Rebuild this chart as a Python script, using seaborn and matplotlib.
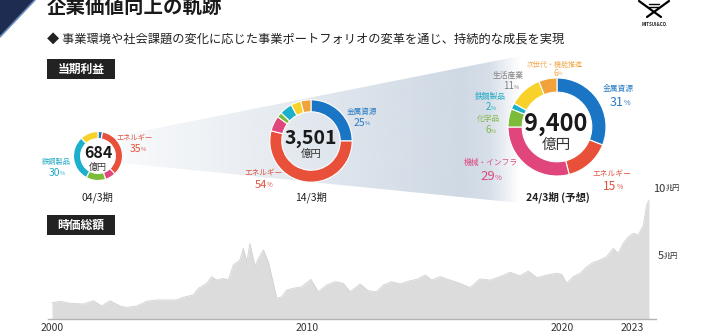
import numpy as np
import pandas as pd
import matplotlib
matplotlib.use("Agg")
import matplotlib.pyplot as plt
from matplotlib.patches import Polygon, Rectangle
import seaborn as sns

# ---------------- data ----------------
years = [2000.00, 2000.31, 2000.71, 2001.23, 2001.62, 2001.95, 2002.27, 2002.67, 2002.93, 2003.32,
         2003.71, 2004.11, 2004.50, 2004.89, 2005.15, 2005.54, 2005.74, 2006.07, 2006.26, 2006.46,
         2006.72, 2006.91, 2007.11, 2007.37, 2007.50, 2007.64, 2007.76, 2007.96, 2008.09, 2008.29,
         2008.48, 2008.62, 2008.81, 2009.01, 2009.20, 2009.46, 2009.79, 2010.15, 2010.44, 2010.77,
         2011.10, 2011.42, 2011.69, 2012.08, 2012.40, 2012.73, 2012.99, 2013.32, 2013.65, 2014.04,
         2014.30, 2014.63, 2014.89, 2015.22, 2015.61, 2016.00, 2016.39, 2016.78, 2017.18, 2017.57,
         2017.96, 2018.35, 2018.68, 2019.01, 2019.40, 2019.79, 2019.99, 2020.18, 2020.44, 2020.71,
         2020.97, 2021.23, 2021.49, 2021.75, 2022.01, 2022.20, 2022.40, 2022.60, 2022.80, 2022.99,
         2023.19, 2023.32, 2023.41]
market_cap = [1.23, 1.34, 1.19, 1.13, 1.39, 0.98, 1.39, 0.98, 0.87, 0.98,
              1.34, 1.45, 1.45, 1.45, 1.66, 1.84, 2.36, 2.75, 3.27, 3.00,
              3.14, 3.00, 4.18, 4.57, 5.48, 4.44, 5.87, 4.05, 4.70, 5.35,
              4.44, 3.27, 1.58, 1.70, 2.23, 2.36, 2.48, 3.06, 2.09, 2.62,
              2.88, 2.75, 2.09, 2.70, 2.17, 2.09, 2.62, 2.88, 2.70, 2.95,
              3.06, 3.40, 3.00, 3.27, 3.00, 2.75, 2.41, 3.09, 3.00, 3.27,
              3.61, 3.34, 3.71, 3.19, 3.40, 3.53, 3.45, 2.75, 3.27, 3.53,
              4.05, 4.39, 4.57, 4.83, 5.48, 5.09, 5.87, 6.39, 6.66, 6.52,
              7.30, 8.87, 9.26]
x_ticks = [2000, 2010, 2020, 2022.75]
x_tick_labels = ["2000", "2010", "2020", "2023"]
y_labels = [("10", "兆円"), ("5", "兆円")]

segments = ["金属資源", "エネルギー", "機械・インフラ", "化学品", "鉄鋼製品", "生活産業", "次世代・機能推進"]
seg_colors = ["#1a75c4", "#e8503a", "#e0457b", "#7dbb3a", "#1cb0cc", "#f8d22a", "#f2a23a"]
label_colors = ["#2b7cc2", "#e0503c", "#dc4a7e", "#86b84a", "#22aac4", "#808080", "#f0a848"]

profit_labels = ["684", "3,501", "9,400"]
period_labels = ["04/3期", "14/3期", "24/3期 (予想)"]
share_04 = [3, 35, 7, 13, 30, 12, 0]
share_14 = [25, 54, 6, 2, 5, 4, 4]
share_24 = [31, 15, 29, 6, 2, 11, 6]

title = "企業価値向上の軌跡"
subtitle = "◆ 事業環境や社会課題の変化に応じた事業ポートフォリオの変革を通じ、持続的な成長を実現"
box_labels = ["当期利益", "時価総額"]

# ---------------- setup ----------------
sns.set_theme(style="white")
plt.rcParams['font.family'] = ['Noto Sans CJK JP', 'DejaVu Sans']

W, H = 702, 336
fig = plt.figure(figsize=(W / 100, H / 100), dpi=100)
fig.patch.set_facecolor("white")

# background axes in pixel coordinates
bg = fig.add_axes([0, 0, 1, 1])
bg.set_xlim(0, W); bg.set_ylim(H, 0); bg.axis("off"); bg.set_zorder(0)

# funnel band
band = Polygon([(122, 135), (560, 48), (560, 207), (122, 163)], closed=True,
               facecolor="none", edgecolor="none")
bg.add_patch(band)
xs = np.linspace(122, 560, 400)
alpha = np.interp(xs, [122, 250, 460, 490, 520], [0.15, 0.45, 1.0, 0.85, 0.0])
base = np.array(matplotlib.colors.to_rgb("#cfd9e4"))
img = np.ones((2, len(xs), 4))
img[..., :3] = base
img[..., 3] = alpha
im = bg.imshow(img, extent=(122, 560, 210, 45), aspect="auto", interpolation="bilinear", zorder=1)
im.set_clip_path(band)

# corner triangle
bg.add_patch(Polygon([(0, 0), (35, 0), (0, 37)], closed=True, facecolor="#1d2c50", edgecolor="none"))
bg.plot([35, 0], [0, 37], color="#6e8fc0", lw=1.2)

# label boxes
for (bx, by), txt in zip([(47, 59), (47, 215)], box_labels):
    bg.add_patch(Rectangle((bx, by), 68, 20, facecolor="#222222", edgecolor="none"))

# logo
bg.plot([639, 661], [1, 17], color="black", lw=1.6, solid_capstyle="round")
bg.plot([669, 647], [1, 17], color="black", lw=1.6, solid_capstyle="round")
bg.plot([649, 659], [3.5, 3.5], color="black", lw=1.0)
bg.plot([649, 659], [6.5, 6.5], color="black", lw=1.0)

# ---------------- area chart ----------------
px_per_year = 25.5
ax_l, ax_r = 48, 656
x0 = 2000 - (52 - ax_l) / px_per_year
x1 = 2000 + (ax_r - 52) / px_per_year
base_y, top_y = 318.5, 180
ax = fig.add_axes([ax_l / W, 1 - base_y / H, (ax_r - ax_l) / W, (base_y - top_y) / H])
ax.set_zorder(1)
ax.patch.set_alpha(0)
df = pd.DataFrame({"year": years, "cap": market_cap})
ax.fill_between(df["year"], 0, df["cap"], color="#dcdcdc", lw=0)
sns.lineplot(data=df, x="year", y="cap", ax=ax, color="#d2d2d2", lw=0.6)
ax.set_xlim(x0, x1)
ax.set_ylim(0, (base_y - top_y) / 12.8)
for s in ["top", "right", "left"]:
    ax.spines[s].set_visible(False)
ax.spines["bottom"].set_color("#b4b4b4")
ax.spines["bottom"].set_linewidth(1.0)
ax.set_yticks([])
ax.set_xticks(x_ticks)
ax.set_xticklabels(x_tick_labels)
ax.tick_params(axis="x", length=0, pad=3, labelsize=7.5, labelcolor="#333333")
ax.set_xlabel(""); ax.set_ylabel("")

# ---------------- donuts ----------------
def donut(cx, cy, r, values, colors):
    a = fig.add_axes([(cx - r) / W, 1 - (cy + r) / H, 2 * r / W, 2 * r / H])
    a.set_zorder(2)
    vals = [v for v in values if v > 0]
    cols = [c for v, c in zip(values, colors) if v > 0]
    a.pie(vals, colors=cols, startangle=90, counterclock=False, radius=1,
          wedgeprops=dict(width=0.29, edgecolor="white", linewidth=0.8))
    a.set_xlim(-1.02, 1.02); a.set_ylim(-1.02, 1.02)
    a.set_aspect("equal"); a.axis("off")

donut(98, 156, 25, share_04, seg_colors)
donut(311, 141, 42, share_14, seg_colors)
donut(557, 127, 50, share_24, seg_colors)

# ---------------- texts ----------------
tax = fig.add_axes([0, 0, 1, 1])
tax.set_xlim(0, W); tax.set_ylim(H, 0); tax.axis("off"); tax.set_zorder(3)
tax.patch.set_alpha(0)

def T(x, y, s, **kw):
    kw.setdefault("ha", "center"); kw.setdefault("va", "center")
    return tax.text(x, y, s, **kw)

def pct(x, y, num, color, size, psize=None, unit="%"):
    psize = psize or size * 0.6
    t = T(x - size * 0.25, y, num, color=color, fontsize=size)
    tax.annotate(unit, xy=(1, 0.12), xycoords=t, color=color, fontsize=psize, ha="left", va="bottom")

T(47, 7.5, title, ha="left", fontsize=14, fontweight="bold", color="#1a1a1a")
T(47, 40, subtitle, ha="left", fontsize=8.8, color="#222222")
T(81, 69.5, box_labels[0], color="white", fontsize=8.5, fontweight="bold")
T(81, 225, box_labels[1], color="white", fontsize=8.5, fontweight="bold")
T(655, 24, "MITSUI&CO.", fontsize=3.2, fontweight="bold", color="#222222")

# donut centres
T(98, 153, profit_labels[0], fontsize=11.5, fontweight="bold", color="#1a1a1a")
T(98, 167, "億円", fontsize=6.5, color="#333333")
T(311, 138, profit_labels[1], fontsize=14, fontweight="bold", color="#1a1a1a")
T(311, 153.5, "億円", fontsize=7.5, color="#333333")
T(556, 124, profit_labels[2], fontsize=17, fontweight="bold", color="#1a1a1a")
T(556, 144.5, "億円", fontsize=10.5, color="#333333")

T(97, 197, period_labels[0], fontsize=7.5, color="#222222")
T(311, 197, period_labels[1], fontsize=7.5, color="#222222")
T(558, 197, period_labels[2], fontsize=7.5, fontweight="bold", color="#222222")

# donut 1 labels
T(135, 137.5, segments[1], fontsize=5.2, color=label_colors[1])
pct(137, 148.5, str(share_04[1]), label_colors[1], 7.5, 4.2)
T(56.5, 162, segments[4], fontsize=5.2, color=label_colors[4])
pct(56, 172.5, str(share_04[4]), label_colors[4], 7.5, 4.2)

# donut 2 labels
T(362, 112, segments[0], fontsize=5.5, color=label_colors[0])
pct(361, 122.5, str(share_14[0]), label_colors[0], 7.5, 4.2)
T(263, 173.5, segments[1], fontsize=5.5, color=label_colors[1])
pct(263, 185, str(share_14[1]), label_colors[1], 8, 4.5)

# donut 3 labels
d3 = [(618, 89, 619, 102), (612, 174, 612, 186), (491, 163, 490, 177),
      (488, 119, 490, 130), (490, 96.5, 490, 107), (508, 76, 510, 86), (555, 64.5, 557, 73)]
d3_sizes = [9, 8.5, 9.5, 7, 7, 7, 6]
for i, (lx, ly, px, py) in enumerate(d3):
    T(lx, ly, segments[i], fontsize=5.6 if i != 6 else 5.0, color=label_colors[i])
    pct(px, py, str(share_24[i]), label_colors[i], d3_sizes[i], d3_sizes[i] * 0.58)

# right axis labels
for (num, unit), (lx, ly) in zip(y_labels, [(653, 188.5), (658, 256)]):
    t = T(lx, ly, num, ha="left", fontsize=8, color="#333333")
    tax.annotate(unit, xy=(1, 0.12), xycoords=t, color="#333333", fontsize=5.2, ha="left", va="bottom")

fig.savefig("out.png", dpi=100)
